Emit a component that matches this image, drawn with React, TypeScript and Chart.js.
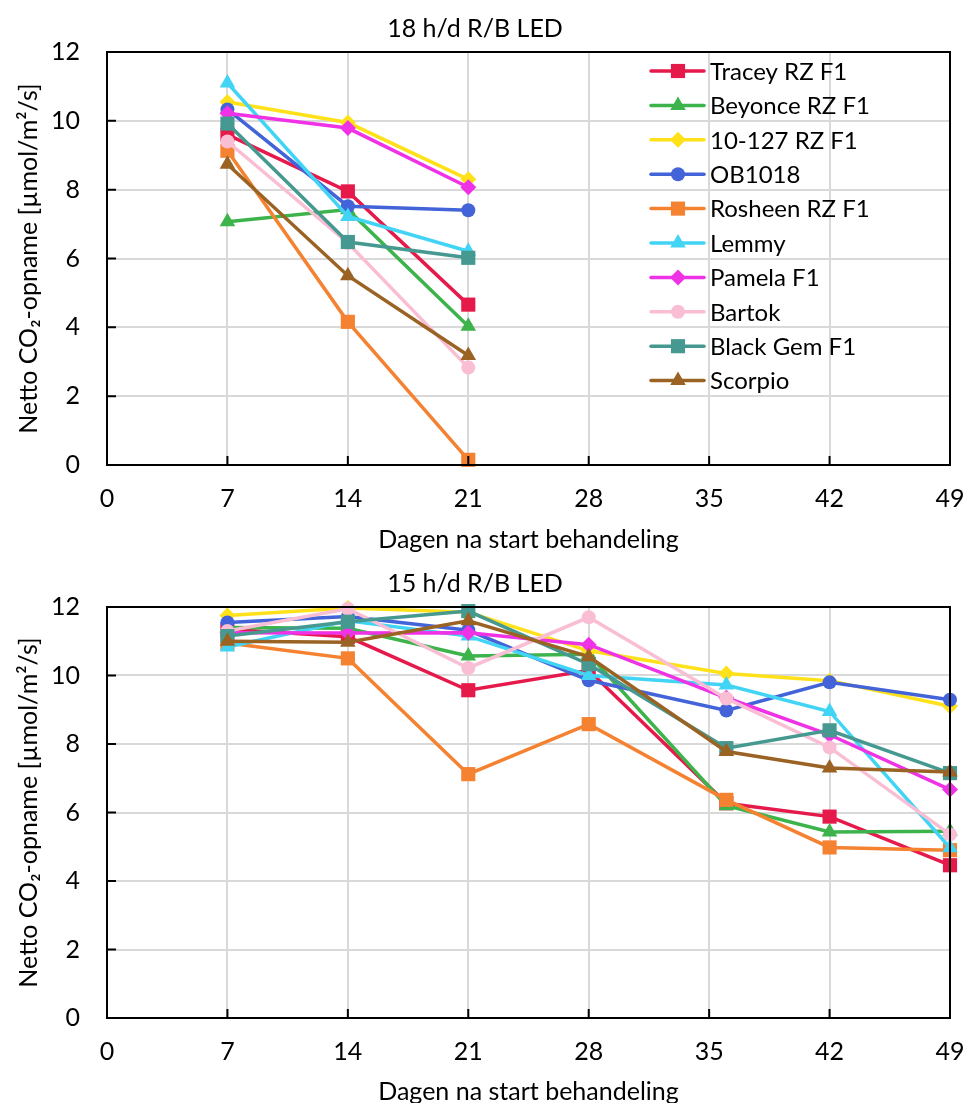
import React, { useEffect, useRef } from "react";
import { Chart, registerables } from "chart.js";

Chart.register(...registerables);

// ---------- data ----------
const seriesNames = [
  "Tracey RZ F1",
  "Beyonce RZ F1",
  "10-127 RZ F1",
  "OB1018",
  "Rosheen RZ F1",
  "Lemmy",
  "Pamela F1",
  "Bartok",
  "Black Gem F1",
  "Scorpio",
];
const seriesColors = [
  "#e6194b",
  "#3cb44b",
  "#ffe119",
  "#4363d8",
  "#f58231",
  "#42d4f4",
  "#f032e6",
  "#fabed4",
  "#469990",
  "#9a6324",
];
const seriesMarkers = [
  "rect",
  "triangle",
  "rectRot",
  "circle",
  "rect",
  "triangle",
  "rectRot",
  "circle",
  "rect",
  "triangle",
];

const topTitle = "18 h/d R/B LED";
const bottomTitle = "15 h/d R/B LED";
const xTitle = "Dagen na start behandeling";
const yTitle = "Netto CO\u2082-opname [\u00b5mol/m\u00b2/s]";

const topDays = [7, 14, 21];
const topTracey = [9.6, 7.95, 4.66];
const topBeyonce = [7.07, 7.42, 4.03];
const top10127 = [10.55, 9.95, 8.3];
const topOB1018 = [10.33, 7.52, 7.4];
const topRosheen = [9.13, 4.16, 0.15];
const topLemmy = [11.1, 7.22, 6.21];
const topPamela = [10.22, 9.79, 8.07];
const topBartok = [9.4, 6.45, 2.83];
const topBlackGem = [9.92, 6.48, 6.02];
const topScorpio = [8.74, 5.5, 3.18];

const bottomDays = [7, 14, 21, 28, 36, 42, 49];
const botTracey = [11.35, 11.13, 9.57, 10.15, 6.27, 5.88, 4.46];
const botBeyonce = [11.4, 11.38, 10.57, 10.62, 6.2, 5.43, 5.45];
const bot10127 = [11.75, 11.97, 11.85, 10.72, 10.06, 9.85, 9.1];
const botOB1018 = [11.55, 11.72, 11.32, 9.86, 8.98, 9.8, 9.29];
const botRosheen = [10.95, 10.5, 7.12, 8.58, 6.37, 4.98, 4.9];
const botLemmy = [10.83, 11.6, 11.15, 10.0, 9.72, 8.95, 4.97];
const botPamela = [11.25, 11.24, 11.25, 10.9, 9.35, 8.27, 6.67];
const botBartok = [11.3, 11.95, 10.22, 11.7, 9.33, 7.9, 5.36];
const botBlackGem = [11.15, 11.57, 11.88, 10.33, 7.88, 8.4, 7.15];
const botScorpio = [11.0, 10.97, 11.6, 10.55, 7.78, 7.3, 7.18];

const topSeries = [
  topTracey, topBeyonce, top10127, topOB1018, topRosheen,
  topLemmy, topPamela, topBartok, topBlackGem, topScorpio,
];
const bottomSeries = [
  botTracey, botBeyonce, bot10127, botOB1018, botRosheen,
  botLemmy, botPamela, botBartok, botBlackGem, botScorpio,
];

const xMin = 0;
const xMax = 49;
const xStep = 7;
const yMin = 0;
const yMax = 12;
const yStep = 2;

// ---------- styling ----------
const FONT = "Lato, 'Liberation Sans', sans-serif";
const markerRadius: Record<string, number> = {
  rect: 10,
  circle: 7,
  triangle: 9,
  rectRot: 8,
};

function drawMarker(ctx: CanvasRenderingContext2D, style: string, x: number, y: number, color: string) {
  const r = markerRadius[style];
  ctx.save();
  ctx.fillStyle = color;
  ctx.beginPath();
  if (style === "rect") {
    const s = Math.SQRT1_2 * r;
    ctx.rect(x - s, y - s, 2 * s, 2 * s);
  } else if (style === "circle") {
    ctx.arc(x, y, r, 0, Math.PI * 2);
  } else if (style === "triangle") {
    ctx.moveTo(x, y - r);
    ctx.lineTo(x + r * Math.sin((2 * Math.PI) / 3), y - r * Math.cos((2 * Math.PI) / 3));
    ctx.lineTo(x + r * Math.sin((4 * Math.PI) / 3), y - r * Math.cos((4 * Math.PI) / 3));
    ctx.closePath();
  } else {
    ctx.moveTo(x - r, y);
    ctx.lineTo(x, y - r);
    ctx.lineTo(x + r, y);
    ctx.lineTo(x, y + r);
    ctx.closePath();
  }
  ctx.fill();
  ctx.restore();
}

const frameAndTicksPlugin = {
  id: "frameAndTicks",
  afterDatasetsDraw(chart: any) {
    const { ctx, chartArea, scales } = chart;
    ctx.save();
    ctx.strokeStyle = "#000";
    ctx.lineWidth = 2;
    // inside tick marks
    ctx.beginPath();
    scales.y.ticks.forEach((t: any) => {
      const py = scales.y.getPixelForValue(t.value);
      ctx.moveTo(chartArea.left, py);
      ctx.lineTo(chartArea.left + 9, py);
    });
    scales.x.ticks.forEach((t: any) => {
      const px = scales.x.getPixelForValue(t.value);
      ctx.moveTo(px, chartArea.bottom);
      ctx.lineTo(px, chartArea.bottom - 9);
    });
    ctx.stroke();
    ctx.strokeRect(chartArea.left, chartArea.top, chartArea.right - chartArea.left, chartArea.bottom - chartArea.top);
    ctx.restore();
  },
};

const insideLegendPlugin = {
  id: "insideLegend",
  afterDraw(chart: any) {
    if (!chart.options.plugins.insideLegend?.show) return;
    const { ctx, chartArea } = chart;
    const x0 = chartArea.left + 544;
    const y0 = chartArea.top + 19;
    const rowH = 34.4;
    ctx.save();
    ctx.font = `24px ${FONT}`;
    ctx.textBaseline = "middle";
    ctx.textAlign = "left";
    chart.data.datasets.forEach((ds: any, i: number) => {
      const y = y0 + i * rowH;
      ctx.strokeStyle = ds.borderColor;
      ctx.lineWidth = 3.5;
      ctx.lineCap = "round";
      ctx.beginPath();
      ctx.moveTo(x0, y);
      ctx.lineTo(x0 + 53, y);
      ctx.stroke();
      drawMarker(ctx, ds.pointStyle, x0 + 27, y, ds.backgroundColor);
      ctx.fillStyle = "#000";
      ctx.fillText(ds.label, x0 + 59, y + 1);
    });
    ctx.restore();
  },
};

function buildConfig(title: string, days: number[], series: number[][], showLegend: boolean, xScaleHeight: number) {
  const n = series.length;
  const datasets = series.map((vals, i) => ({
    label: seriesNames[i],
    data: days.map((d, j) => ({ x: d, y: vals[j] })),
    borderColor: seriesColors[i],
    backgroundColor: seriesColors[i],
    pointStyle: seriesMarkers[i],
    pointRadius: markerRadius[seriesMarkers[i]],
    pointBorderWidth: 0,
    borderWidth: 3.5,
    tension: 0,
    clip: false as any,
    order: n - i,
  }));
  return {
    type: "line" as const,
    data: { datasets },
    plugins: [frameAndTicksPlugin, insideLegendPlugin],
    options: {
      animation: false as const,
      responsive: false,
      maintainAspectRatio: false,
      layout: { padding: { left: 0, right: 18, top: 0, bottom: 0 } },
      plugins: {
        legend: { display: false },
        tooltip: { enabled: false },
        insideLegend: { show: showLegend },
        title: {
          display: true,
          text: title,
          color: "#000",
          font: { size: 25, weight: "normal" as const, family: FONT, lineHeight: 1.2 },
          padding: { top: 14, bottom: 8 },
        },
      },
      scales: {
        x: {
          type: "linear" as const,
          min: xMin,
          max: xMax,
          afterFit: (s: any) => {
            s.height = xScaleHeight;
            s.paddingLeft = 0;
            s.paddingRight = 0;
          },
          ticks: {
            stepSize: xStep,
            color: "#000",
            padding: 19,
            font: { size: 25, family: FONT },
            maxRotation: 0,
          },
          grid: { color: "#d9d9d9", lineWidth: 2, drawTicks: false },
          border: { display: false },
          title: {
            display: true,
            text: xTitle,
            color: "#000",
            font: { size: 25, family: FONT, lineHeight: 1.2 },
            padding: { top: 0, bottom: 0 },
          },
        },
        y: {
          type: "linear" as const,
          min: yMin,
          max: yMax,
          afterFit: (s: any) => { s.width = 107; },
          ticks: {
            stepSize: yStep,
            color: "#000",
            padding: 27,
            font: { size: 25, family: FONT },
          },
          grid: { color: "#d9d9d9", lineWidth: 2, drawTicks: false },
          border: { display: false },
          title: {
            display: true,
            text: yTitle,
            color: "#000",
            font: { size: 25, family: FONT, lineHeight: 1.2 },
            padding: { top: 14, bottom: 0 },
          },
        },
      },
    },
  };
}

function LineChart(props: { title: string; days: number[]; series: number[][]; legend: boolean; width: number; height: number; xScaleHeight: number }) {
  const ref = useRef<HTMLCanvasElement | null>(null);
  useEffect(() => {
    if (!ref.current) return;
    const chart = new Chart(ref.current, buildConfig(props.title, props.days, props.series, props.legend, props.xScaleHeight) as any);
    return () => chart.destroy();
  }, []);
  return <canvas ref={ref} width={props.width} height={props.height} style={{ display: "block", width: props.width, height: props.height }} />;
}

export default function App() {
  return (
    <div style={{ position: "absolute", left: 0, top: 0, width: 968, height: 1103, overflow: "hidden", background: "#fff" }}>
      <div style={{ position: "absolute", left: 0, top: 0 }}>
        <LineChart title={topTitle} days={topDays} series={topSeries} legend={true} width={968} height={555} xScaleHeight={90} />
      </div>
      <div style={{ position: "absolute", left: 0, top: 555 }}>
        <LineChart title={bottomTitle} days={bottomDays} series={bottomSeries} legend={false} width={968} height={552} xScaleHeight={89} />
      </div>
    </div>
  );
}
